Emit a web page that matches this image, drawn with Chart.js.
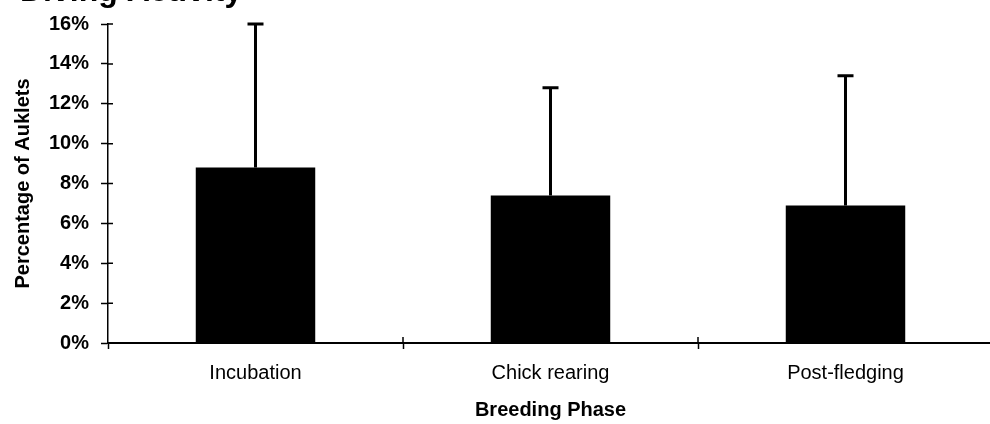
<!DOCTYPE html>
<html>
<head>
<meta charset="utf-8">
<script src="https://cdn.jsdelivr.net/npm/chart.js@4/dist/chart.umd.min.js"></script>
<style>
  html, body { margin: 0; padding: 0; background: #fff; overflow: hidden; }
  #wrap { position: relative; width: 996px; height: 424px; }
</style>
</head>
<body>
<div id="wrap"><canvas id="chart"></canvas></div>
<script>
// Breeding phases and the share of auklets diving in each (percent)
const phases = ['Incubation', 'Chick rearing', 'Post-fledging'];
const meanPct = [8.8, 7.4, 6.9];
const sdPct = [7.2, 5.4, 6.5];
const yTickValues = [0, 2, 4, 6, 8, 10, 12, 14, 16];

const chartTitle = 'Diving Activity';
const xTitle = 'Breeding Phase';
const yTitle = 'Percentage of Auklets';

const FONT = '"Liberation Sans", Arial, Helvetica, sans-serif';
Chart.defaults.font.family = FONT;
Chart.defaults.color = '#000';

// Upper error whiskers with a short cap
const errorBars = {
  id: 'errorBars',
  afterDatasetsDraw(chart) {
    const meta = chart.getDatasetMeta(0);
    const y = chart.scales.y;
    const ctx = chart.ctx;
    ctx.save();
    ctx.strokeStyle = '#000';
    ctx.lineWidth = 3;
    meta.data.forEach((bar, i) => {
      const top = y.getPixelForValue(meanPct[i] + sdPct[i]);
      ctx.beginPath();
      ctx.moveTo(bar.x, bar.y);
      ctx.lineTo(bar.x, top);
      ctx.moveTo(bar.x - 8, top);
      ctx.lineTo(bar.x + 8, top);
      ctx.stroke();
    });
    ctx.restore();
  }
};

// Tick marks that cross the axes: short stubs on the plot side
const crossTicks = {
  id: 'crossTicks',
  afterDraw(chart) {
    const ctx = chart.ctx;
    const x = chart.scales.x, y = chart.scales.y;
    ctx.save();
    ctx.strokeStyle = '#000';
    ctx.lineWidth = 1.5;
    ctx.beginPath();
    y.ticks.forEach(t => {
      const py = y.getPixelForValue(t.value);
      ctx.moveTo(x.left, py);
      ctx.lineTo(x.left + 5, py);
    });
    const n = phases.length;
    for (let i = 1; i <= n; i++) {
      const px = x.left + i * x.width / n;
      ctx.moveTo(px, y.bottom);
      ctx.lineTo(px, y.bottom - 6);
    }
    ctx.stroke();
    ctx.restore();
  }
};

// Chart heading along the top edge
const heading = {
  id: 'heading',
  afterDraw(chart) {
    const ctx = chart.ctx;
    ctx.save();
    ctx.fillStyle = '#000';
    ctx.font = 'bold 32px ' + FONT;
    ctx.textAlign = 'left';
    ctx.textBaseline = 'alphabetic';
    ctx.fillText(chartTitle, 20, 1);
    ctx.restore();
  }
};

new Chart(document.getElementById('chart'), {
  type: 'bar',
  data: {
    labels: phases,
    datasets: [{
      data: meanPct,
      backgroundColor: '#000',
      borderWidth: 0,
      categoryPercentage: 1,
      barPercentage: 0.405
    }]
  },
  options: {
    responsive: true,
    maintainAspectRatio: false,
    animation: false,
    layout: { padding: { top: 22, right: 3, left: 0, bottom: 0 } },
    plugins: {
      legend: { display: false },
      tooltip: { enabled: false },
      title: { display: false }
    },
    scales: {
      x: {
        grid: {
          display: true,
          drawOnChartArea: false,
          drawTicks: true,
          tickLength: 6,
          tickColor: '#000',
          tickWidth: 1.5,
          offset: true
        },
        border: { display: true, color: '#000', width: 2 },
        ticks: {
          color: '#000',
          padding: 12,
          font: { size: 20, family: FONT }
        },
        title: {
          display: true,
          text: xTitle,
          color: '#000',
          font: { size: 20, weight: 'bold', family: FONT },
          padding: { top: 0, bottom: 2 }
        },
        afterFit(scale) { scale.height = 81; }
      },
      y: {
        min: 0,
        max: 16,
        afterBuildTicks(scale) {
          scale.ticks = yTickValues.map(v => ({ value: v }));
        },
        grid: {
          display: true,
          drawOnChartArea: false,
          drawTicks: true,
          tickLength: 7,
          tickColor: '#000',
          tickWidth: 1.5
        },
        border: { display: true, color: '#000', width: 1.5 },
        ticks: {
          color: '#000',
          padding: 12,
          font: { size: 20, weight: 'bold', family: FONT },
          callback: v => v + '%'
        },
        title: {
          display: true,
          text: yTitle,
          color: '#000',
          font: { size: 20, weight: 'bold', family: FONT },
          padding: { top: 11, bottom: 0 }
        },
        afterFit(scale) { scale.width = 108; }
      }
    }
  },
  plugins: [errorBars, crossTicks, heading]
});
</script>
</body>
</html>
